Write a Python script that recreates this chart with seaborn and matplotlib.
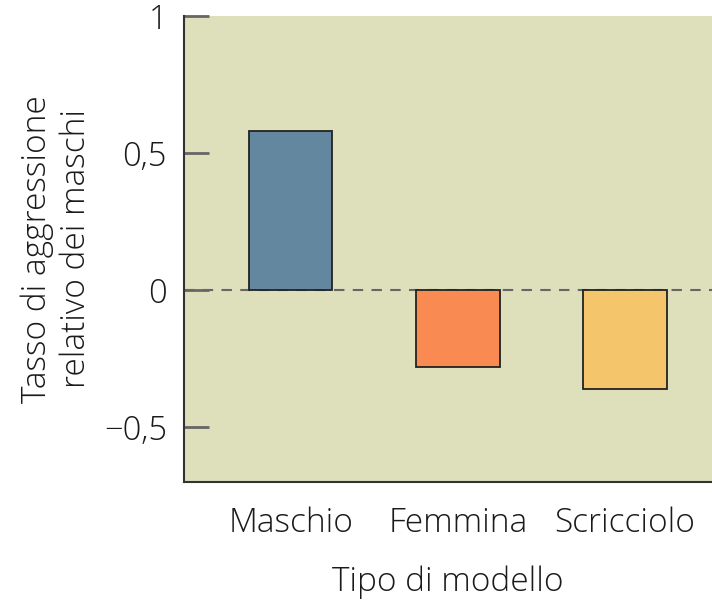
import pandas as pd
import seaborn as sns
import matplotlib.pyplot as plt

# data
modelli = ["Maschio", "Femmina", "Scricciolo"]
aggressione = [0.58, -0.28, -0.36]
colori = ["#62879e", "#f98a52", "#f5c56b"]
yticks = [-0.5, 0, 0.5, 1]
ytick_labels = ["\u22120,5", "0", "0,5", "1"]

df = pd.DataFrame({"modello": modelli, "valore": aggressione})

sns.set_style("ticks")
plt.rcParams["font.family"] = ["Open Sans", "DejaVu Sans"]
plt.rcParams["font.weight"] = "light"
plt.rcParams["axes.labelweight"] = "light"
plt.rcParams["text.color"] = "#1a1a1a"
plt.rcParams["axes.labelcolor"] = "#1a1a1a"

fig = plt.figure(figsize=(7.12, 6), dpi=100)
ax = fig.add_axes([0.258, 0.197, 0.742, 0.776])
ax.set_facecolor("#dde0bb")

sns.barplot(data=df, x="modello", y="valore", hue="modello", palette=colori,
            width=0.5, edgecolor="#222222", linewidth=1.3, saturation=1,
            legend=False, ax=ax)

ax.axhline(0, color="#666666", linestyle=(0, (5, 4)), linewidth=1.5, zorder=0.5)

ax.set_xlim(-0.64, 2.52)
ax.set_ylim(-0.7, 1)
ax.set_yticks(yticks)
ax.set_yticklabels(ytick_labels, fontsize=23.5, color="#1a1a1a")
ax.tick_params(axis="y", direction="in", length=18, width=2, color="#666666", pad=12)
ax.tick_params(axis="x", length=0, labelsize=24, labelcolor="#1a1a1a", pad=18)

sns.despine(ax=ax, top=True, right=True)
ax.spines["left"].set_color("#333333")
ax.spines["bottom"].set_color("#333333")
ax.spines["left"].set_linewidth(1.5)
ax.spines["bottom"].set_linewidth(1.5)

ax.set_xlabel("Tipo di modello", fontsize=24, labelpad=18)
ax.set_ylabel("Tasso di aggressione\nrelativo dei maschi", fontsize=24,
              labelpad=8, linespacing=1.2)

plt.savefig("out.png", dpi=100)
